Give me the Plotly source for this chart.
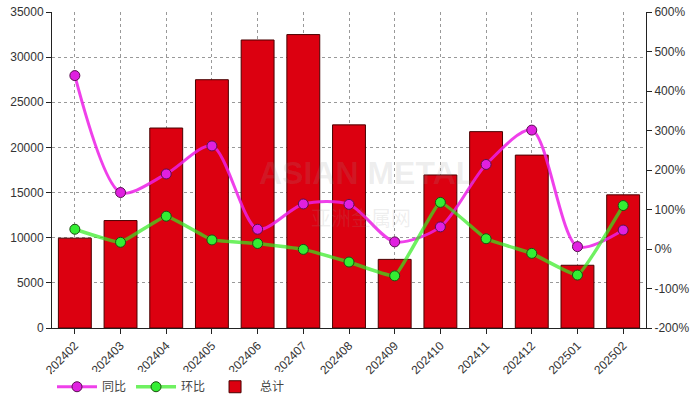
import plotly.graph_objects as go

categories = ["202402", "202403", "202404", "202405", "202406", "202407", "202408",
              "202409", "202410", "202411", "202412", "202501", "202502"]
total = [9950, 11900, 22150, 27500, 31900, 32500, 22500, 7600, 16950, 21750, 19150, 6950, 14750]
yoy = [439, 143, 190, 261, 50, 114, 113, 18, 56, 214, 301, 6, 48]
mom = [50, 17, 83, 23, 14, -1, -33, -68, 118, 26, -11, -66, 110]

left_ticks = [0, 5000, 10000, 15000, 20000, 25000, 30000, 35000]
right_ticks = [-200, -100, 0, 100, 200, 300, 400, 500, 600]
right_labels = [f"{v}%" for v in right_ticks]

fig = go.Figure()
fig.add_trace(go.Bar(
    x=categories, y=total, name="总计", legendrank=3,
    marker=dict(color="#dc0010", line=dict(color="#4a0000", width=1)),
    width=0.72,
))
fig.add_trace(go.Scatter(
    x=categories, y=yoy, name="同比", yaxis="y2", legendrank=1,
    mode="lines+markers",
    line=dict(color="rgba(236,30,230,0.85)", width=3, shape="spline", smoothing=0.8),
    marker=dict(size=10, color="#e020e0", line=dict(color="#5a1050", width=1)),
))
fig.add_trace(go.Scatter(
    x=categories, y=mom, name="环比", yaxis="y2", legendrank=2,
    mode="lines+markers",
    line=dict(color="rgba(50,235,30,0.7)", width=3.5, shape="spline", smoothing=0.3),
    marker=dict(size=10, color="#33ee33", line=dict(color="#1c5010", width=1)),
))

fig.add_annotation(
    text="<b>ASIAN METAL</b>", x=0.53, y=0.49, xref="paper", yref="paper",
    showarrow=False, font=dict(size=32, color="rgba(150,150,150,0.16)", family="Liberation Sans"),
)
fig.add_annotation(
    text="亚洲金属网", x=0.52, y=0.35, xref="paper", yref="paper",
    showarrow=False, font=dict(size=20, color="rgba(150,150,150,0.16)", family="Noto Sans CJK SC"),
)

fig.update_layout(
    width=693, height=399,
    margin=dict(l=52, r=47, t=12, b=71, autoexpand=False),
    paper_bgcolor="white", plot_bgcolor="white",
    font=dict(family="Liberation Sans, Arial, sans-serif", size=12, color="#333333"),
    showlegend=True,
    legend=dict(orientation="h", x=0.0, y=-0.14, xanchor="left", yanchor="top",
                font=dict(size=12, color="#444444", family="Noto Sans CJK SC"),
                itemwidth=40, tracegroupgap=0),
    xaxis=dict(
        type="category", tickangle=-45, showline=True, linecolor="#222222", linewidth=1,
        ticks="outside", ticklen=5, tickcolor="#222222", automargin=False,
        showgrid=True, gridcolor="#999999", griddash="dot", gridwidth=1,
        tickfont=dict(size=12, color="#333333"),
        range=[-0.5, 12.5],
    ),
    yaxis=dict(
        range=[0, 35000], tickvals=left_ticks, tickformat="d",
        showline=True, linecolor="#222222", linewidth=1, automargin=False,
        ticks="outside", ticklen=5, tickcolor="#222222",
        showgrid=True, gridcolor="#999999", griddash="dot", gridwidth=1,
        zeroline=False, tickfont=dict(size=12, color="#333333"),
    ),
    yaxis2=dict(
        overlaying="y", side="right", range=[-200, 600], tickvals=right_ticks,
        ticktext=right_labels, automargin=False,
        showline=True, linecolor="#222222", linewidth=1,
        ticks="outside", ticklen=5, tickcolor="#222222",
        showgrid=False, zeroline=False, tickfont=dict(size=12, color="#333333"),
    ),
)

# remove the default 8px body margin so the figure fills the window exactly
fig.write_html("out.html", config={"displayModeBar": False},
               post_script="document.body.style.margin='0px';")
